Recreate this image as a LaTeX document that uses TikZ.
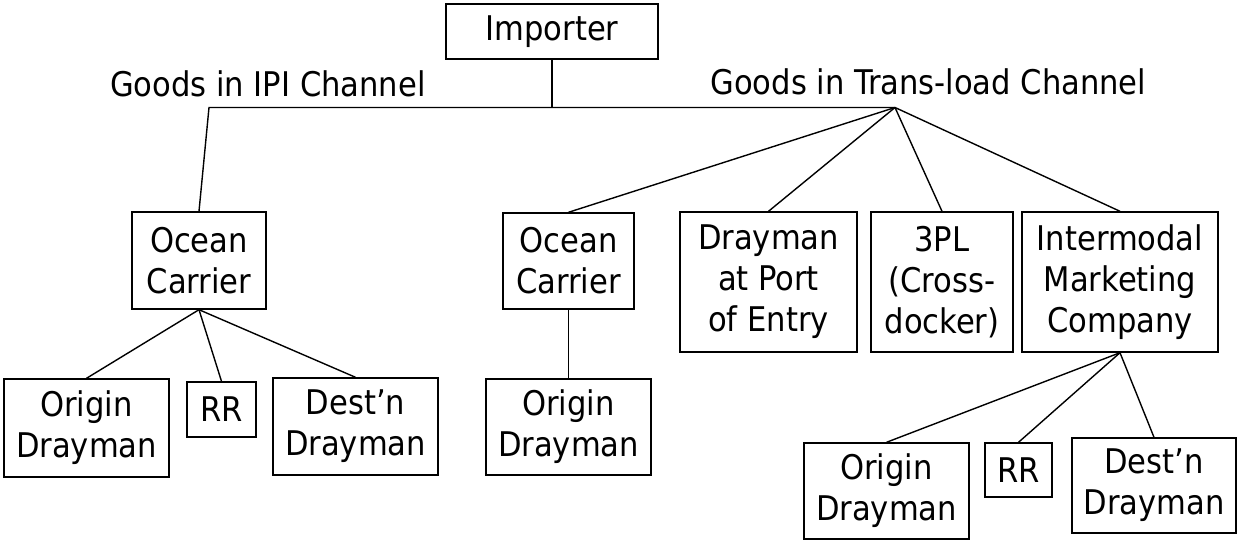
\documentclass[tikz,border=0pt]{standalone}
\usepackage{fontspec}
\setmainfont{DejaVu Sans Condensed}
\begin{document}
\begin{tikzpicture}[
  x=0.5pt, y=-0.5pt,
  box/.style={draw, line width=0.7pt, inner sep=0pt, align=center, font=\fontsize{17}{20.5}\selectfont},
  sz/.style 2 args={minimum width=#1, minimum height=#2},
  lbl/.style={inner sep=0pt, anchor=base, font=\fontsize{17}{20.5}\selectfont},
  link/.style={line width=0.7pt}
]
\useasboundingbox (0,0) rectangle (1237,540);
\node[box, sz={106pt}{27.5pt}] (imp) at (552,31.5) {Importer};
\node[lbl] (ipilbl) at (268,97) {Goods in IPI Channel};
\node[lbl] (tllbl) at (928.5,95) {Goods in Trans-load Channel};
\coordinate (ipi) at (209,107.5);
\coordinate (tl) at (895,107.5);

\node[box, sz={67pt}{48.5pt}] (oc1) at (199,260.5) {Ocean\\Carrier};
\node[box, sz={82.5pt}{49pt}] (od1) at (86.5,428) {Origin\\Drayman};
\node[box, sz={34.5pt}{27.5pt}] (rr1) at (221.5,409.5) {RR};
\node[box, sz={82.5pt}{48.5pt}] (dd1) at (355.5,426.5) {Dest’n\\Drayman};

\node[box, sz={65.5pt}{48pt}] (oc2) at (568.5,261) {Ocean\\Carrier};
\node[box, sz={82.5pt}{48pt}] (od2) at (568.5,427) {Origin\\Drayman};
\node[box, sz={88.5pt}{70pt}] (dpe) at (768.5,282) {Drayman\\at Port\\of Entry};
\node[box, sz={71pt}{70pt}] (tpl) at (942,282) {3PL\\(Cross-\\docker)};
\node[box, sz={98pt}{70pt}] (imc) at (1120,282) {Intermodal\\Marketing\\Company};
\node[box, sz={82.5pt}{48pt}] (od3) at (886.5,491) {Origin\\Drayman};
\node[box, sz={33.5pt}{27pt}] (rr3) at (1018.5,470) {RR};
\node[box, sz={82pt}{47.5pt}] (dd3) at (1154,485.5) {Dest’n\\Drayman};

\draw[link] (imp.south) -- (imp.south |- ipi);
\draw[link] (oc1.north) -- (ipi) -- (tl);
\foreach \c in {oc2,dpe,tpl,imc}
  \draw[link] (tl) -- (\c.north);
\foreach \c in {od1,rr1,dd1}
  \draw[link] (oc1.south) -- (\c.north);
\draw[link] (oc2) -- (od2);
\foreach \c in {od3,rr3,dd3}
  \draw[link] (imc.south) -- (\c.north);
\end{tikzpicture}
\end{document}
